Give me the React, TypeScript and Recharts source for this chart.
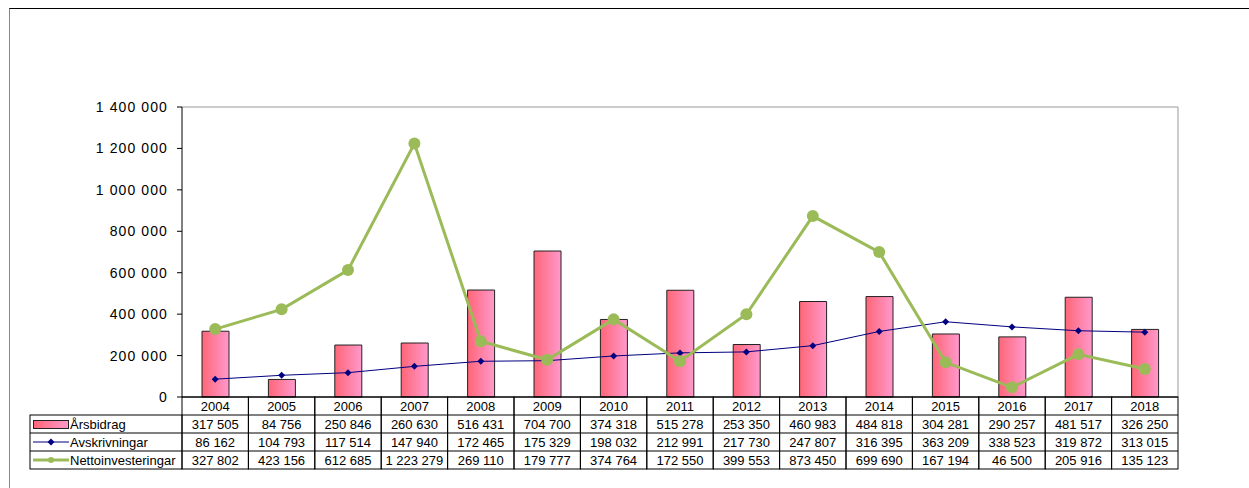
import {
  ComposedChart,
  Bar,
  Line,
  XAxis,
  YAxis,
  ReferenceLine,
} from 'recharts';

const years = ['2004', '2005', '2006', '2007', '2008', '2009', '2010', '2011', '2012', '2013', '2014', '2015', '2016', '2017', '2018'];
const arsbidrag = [317505, 84756, 250846, 260630, 516431, 704700, 374318, 515278, 253350, 460983, 484818, 304281, 290257, 481517, 326250];
const avskrivningar = [86162, 104793, 117514, 147940, 172465, 175329, 198032, 212991, 217730, 247807, 316395, 363209, 338523, 319872, 313015];
const nettoinvesteringar = [327802, 423156, 612685, 1223279, 269110, 179777, 374764, 172550, 399553, 873450, 699690, 167194, 46500, 205916, 135123];
const yTicks = [0, 200000, 400000, 600000, 800000, 1000000, 1200000, 1400000];
const seriesNames = ['Årsbidrag', 'Avskrivningar', 'Nettoinvesteringar'];

const data = years.map((year, i) => ({
  year,
  arsbidrag: arsbidrag[i],
  avskrivningar: avskrivningar[i],
  nettoinvesteringar: nettoinvesteringar[i],
}));

const W = 1249;
const H = 488;
const PLOT_LEFT = 182;
const PLOT_RIGHT = 1178;
const COL_W = (PLOT_RIGHT - PLOT_LEFT) / years.length;
const ROW_H = 18;
const LEGEND_LEFT = 30;
const FONT = 'Liberation Sans, Arial, sans-serif';

const fmt = (v: number) => String(v).replace(/\B(?=(\d{3})+(?!\d))/g, ' ');

const Diamond = ({ cx, cy }: any) => (
  <path d={`M${cx},${cy - 3.5}L${cx + 3.5},${cy}L${cx},${cy + 3.5}L${cx - 3.5},${cy}Z`} fill="#000080" />
);

const LegendColumn = ({ top }: { top: number }) => {
  const rows = [0, 1, 2].map((r) => top + ROW_H * (r + 1));
  return (
    <g>
      <rect x={LEGEND_LEFT} y={rows[0]} width={PLOT_LEFT - LEGEND_LEFT} height={ROW_H * 3} fill="none" stroke="#000" />
      <line x1={LEGEND_LEFT} x2={PLOT_LEFT} y1={rows[1]} y2={rows[1]} stroke="#000" />
      <line x1={LEGEND_LEFT} x2={PLOT_LEFT} y1={rows[2]} y2={rows[2]} stroke="#000" />
      <rect x={33.5} y={rows[0] + 5.5} width={35} height={8} fill="url(#barGrad)" stroke="#222" />
      <line x1={33} x2={69} y1={rows[1] + 9} y2={rows[1] + 9} stroke="#000080" />
      <Diamond cx={51} cy={rows[1] + 9} />
      <line x1={33} x2={69} y1={rows[2] + 9} y2={rows[2] + 9} stroke="#9BBB59" strokeWidth={3} />
      <circle cx={51} cy={rows[2] + 9} r={3} fill="#9BBB59" />
      {seriesNames.map((name, r) => (
        <text key={name} x={70} y={rows[r] + 13.5} fontSize={13} fontFamily={FONT} fill="#000">
          {name}
        </text>
      ))}
    </g>
  );
};

const TableTick = (props: any) => {
  const { x, y, payload, index } = props;
  const i = payload.index ?? index;
  const left = x - COL_W / 2;
  const values = [arsbidrag[i], avskrivningar[i], nettoinvesteringar[i]];
  return (
    <g>
      {i === 0 && <LegendColumn top={y} />}
      <rect x={left} y={y} width={COL_W} height={ROW_H * 4} fill="none" stroke="#000" />
      {[1, 2, 3].map((r) => (
        <line key={r} x1={left} x2={left + COL_W} y1={y + ROW_H * r} y2={y + ROW_H * r} stroke="#000" />
      ))}
      <text x={x} y={y + 13.5} textAnchor="middle" fontSize={13} fontFamily={FONT} fill="#000">
        {payload.value}
      </text>
      {values.map((v, r) => (
        <text key={r} x={x} y={y + ROW_H * (r + 1) + 13.5} textAnchor="middle" fontSize={13} fontFamily={FONT} fill="#000">
          {fmt(v)}
        </text>
      ))}
    </g>
  );
};

const App = () => {
  return (
    <div style={{ position: 'absolute', left: 0, top: 0, width: W, height: H, overflow: 'hidden', background: '#fff' }}>
      <div
        style={{
          position: 'absolute',
          left: 9,
          top: 8,
          width: 1400,
          height: 600,
          borderTop: '1px solid #000',
          borderLeft: '1px solid #888',
        }}
      />
      <div style={{ position: 'absolute', left: 0, top: 0 }}>
        <ComposedChart
          width={W}
          height={H}
          data={data}
          margin={{ top: 107, right: W - PLOT_RIGHT - 1, bottom: 19, left: 82 }}
          barCategoryGap={0}
        >
          <defs>
            <linearGradient id="barGrad" x1="0" y1="0" x2="1" y2="0">
              <stop offset="0%" stopColor="#FF6677" />
              <stop offset="100%" stopColor="#FF99CC" />
            </linearGradient>
          </defs>
          <XAxis
            dataKey="year"
            height={72}
            axisLine={{ stroke: '#000' }}
            tickLine={false}
            tickSize={0}
            tickMargin={0}
            interval={0}
            tick={<TableTick />}
          />
          <YAxis
            yAxisId="left"
            width={100}
            domain={[0, 1400000]}
            ticks={yTicks}
            interval={0}
            tickFormatter={fmt}
            axisLine={{ stroke: '#000' }}
            tickLine={{ stroke: '#000' }}
            tickSize={5}
            tickMargin={9}
            tick={{ fill: '#000', fontSize: 14, fontFamily: FONT, letterSpacing: 1.1 }}
          />
          <YAxis
            yAxisId="right"
            orientation="right"
            width={1}
            domain={[0, 1400000]}
            tick={false}
            tickLine={false}
            axisLine={{ stroke: '#999' }}
          />
          <ReferenceLine yAxisId="left" y={1400000} stroke="#999" />
          <Bar
            yAxisId="left"
            dataKey="arsbidrag"
            barSize={27}
            fill="url(#barGrad)"
            stroke="#222"
            strokeWidth={1}
            isAnimationActive={false}
          />
          <Line
            yAxisId="left"
            dataKey="avskrivningar"
            stroke="#000080"
            strokeWidth={1}
            dot={<Diamond />}
            activeDot={false}
            isAnimationActive={false}
          />
          <Line
            yAxisId="left"
            dataKey="nettoinvesteringar"
            stroke="#9BBB59"
            strokeWidth={3}
            dot={{ r: 6, fill: '#9BBB59', stroke: '#9BBB59', strokeWidth: 0 }}
            activeDot={false}
            isAnimationActive={false}
          />
        </ComposedChart>
      </div>
    </div>
  );
};

export default App;
